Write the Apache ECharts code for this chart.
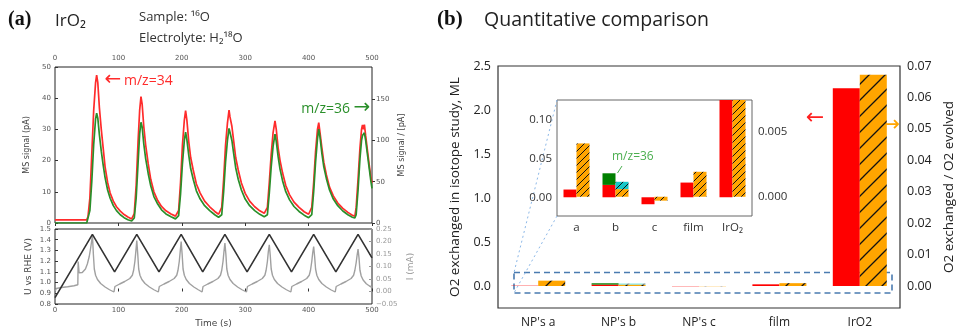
<!DOCTYPE html>
<html><head><meta charset="utf-8">
<script src="https://cdn.jsdelivr.net/npm/echarts@6/dist/echarts.min.js"></script>
<style>html,body{margin:0;padding:0;background:#fff}#c{width:959px;height:329px}</style>
</head><body><div id="c"></div>
<script>
// ---------- Panel (a): MS signals ----------
const msTime = [0,25,50,52,55,58,61,64,65.7,67.5,70,73,76,79,83,87,92,97,103,109,115,121,123,
125,128,131,133.5,135.6,137.5,140,143,147,151,156,162,168,175,183,190,193,
195,198,201,204,206,208,211,214,218,223,229,236,244,252,258,261,
263,266,269,272,274.5,276,277.5,279,282,285,289,294,300,307,315,323,330,333,
335,338,341,344,347,349,352,355,359,364,370,377,385,393,400,403,
405,408,411,414,416,418,421,424,428,433,439,446,454,462,469,473,
475,478,481,483.5,485,486.5,488,490,493,496,498,500];
const ms34 = [1,1,1,2,8,22,36,45,47.4,45,37,30,24,18,13,9.6,7,5.2,3.8,2.7,1.9,1.3,1.3,
3,12,26,36,40.5,38,31,25,19,14,10,7.2,5.3,3.9,2.9,2.2,2.0,
4,13,25,33,36,33,26,21,17,12.5,9.6,7,5.2,3.7,2.8,2.6,
5,14,25,32,36.2,34,34.5,31,26,21,17,12.8,9.5,7,5.2,3.9,3.1,2.9,
5,13,22,29,32.7,30,24,20,16,12,9,6.7,5,3.6,2.8,2.6,
5,13,23,30,32.2,29,24,19.5,15.5,11.5,8.7,6.4,4.7,3.4,2.5,2.2,
5,14,24,30,31.4,30,31.5,28,23,18,15,12.8];
const ms36 = [0,0,0,1,15,50,95,126,133,127,107,87,70,55,40,30,21,15,10,6.5,4,2.5,2.5,
6,30,72,108,122,116,96,78,60,45,32,23,16,11,7.5,5,4.5,
9,35,72,100,110,101,82,66,53,39,29,21,15,10,7,6,
10,38,74,100,114.6,110,112,100,83,67,53,40,29,21,15,10.5,7.5,6.5,
10,36,68,93,107.7,99,80,65,51,38,28,20,14,9.5,6.5,6,
10,38,74,102,113.8,104,84,68,54,40,29,21,14.5,10,7,6,
10,40,78,100,106,104,109.3,100,82,64,52,42];

// ---------- Panel (a): electrochemistry ----------
const potTime = [0,59,94,129,164,199,233,268,303,338,373,408,443,478,500];
const potential = [0.86,1.45,1.10,1.45,1.10,1.45,1.10,1.45,1.10,1.45,1.10,1.45,1.10,1.45,1.23];
const curTime = [0,2,10,20,30,36,36.5,38,43,48,51,54,56,58,59,60.5,62,64,67,72,79,86,93,94,
94.5,102,110,118,122,124,126,127.5,129,130.5,132,134,137,142,149,156,163,164,
164.5,172,180,188,192,194,196,197.5,199,200.5,202,204,207,212,219,226,232,233,
233.5,241,249,257,261,263,265,266.5,268,269.5,271,273,276,281,288,295,302,303,
303.5,311,319,327,331,333,335,336.5,338,339.5,341,343,346,351,358,365,372,373,
373.5,381,389,397,401,403,405,406.5,408,409.5,411,413,416,421,428,435,442,443,
443.5,451,459,467,471,473,475,476.5,478,479.5,481,483,486,491,496,500];
const current = [0,0.012,0.016,0.019,0.023,0.027,0.12,0.075,0.076,0.09,0.11,0.14,0.17,0.205,0.226,0.15,0.09,0.065,0.048,0.032,0.018,0.007,-0.002,-0.004,
0.02,0.03,0.04,0.052,0.065,0.085,0.12,0.16,0.204,0.15,0.09,0.065,0.048,0.032,0.018,0.007,-0.002,-0.004,
0.02,0.03,0.04,0.052,0.065,0.085,0.12,0.16,0.2,0.15,0.09,0.065,0.048,0.032,0.018,0.007,-0.002,-0.004,
0.02,0.03,0.04,0.052,0.065,0.085,0.12,0.16,0.194,0.15,0.09,0.065,0.048,0.032,0.018,0.007,-0.002,-0.004,
0.02,0.03,0.04,0.052,0.065,0.085,0.12,0.16,0.187,0.145,0.09,0.065,0.048,0.032,0.018,0.007,-0.002,-0.004,
0.02,0.03,0.04,0.052,0.065,0.085,0.12,0.155,0.18,0.14,0.09,0.065,0.048,0.032,0.018,0.007,-0.002,-0.004,
0.02,0.03,0.04,0.052,0.065,0.085,0.115,0.145,0.17,0.135,0.085,0.062,0.046,0.031,0.022,0.017];

// ---------- Panel (b): quantitative comparison ----------
const categories = ["NP's a", "NP's b", "NP's c", "film", "IrO2"];
const insetCategories = ["a", "b", "c", "film", "IrO\u2082"];
const exchanged = [0.010, 0.016, -0.009, 0.019, 2.247];      // ML, m/z=34 part
const exchanged36 = [0, 0.015, 0, 0, 0];                      // ML, m/z=36 part
const ratioMain = [0.0017, 0.0004, -0.0002, 0.0009, 0.0672];  // O2 exchanged / O2 evolved
const ratioMain36 = [0, 0.0004, 0, 0, 0];
const ratioInset = [0.0041, 0.00059, -0.0003, 0.00192, 0.0672];
const ratioInset36 = [0, 0.00056, 0, 0, 0];

const tickMS = [0, 50, 100, 150];
const tickML = [0, 0.5, 1.0, 1.5, 2.0, 2.5];
const tickRatio = [0, 0.01, 0.02, 0.03, 0.04, 0.05, 0.06, 0.07];
const tickInsetL = [0, 0.05, 0.10];
const tickInsetR = [0, 0.005];

function hatch(bg, size, lw) {
  const c = document.createElement('canvas');
  c.width = size; c.height = size;
  const g = c.getContext('2d');
  g.fillStyle = bg; g.fillRect(0, 0, size, size);
  g.strokeStyle = '#111'; g.lineWidth = lw;
  g.beginPath();
  g.moveTo(-1, size + 1); g.lineTo(size + 1, -1);
  g.moveTo(-2, 2); g.lineTo(2, -2);
  g.moveTo(size - 2, size + 2); g.lineTo(size + 2, size - 2);
  g.stroke();
  return { image: c, repeat: 'repeat' };
}
const orangeMain = hatch('#ffa500', 16, 1.3);
const cyanMain = hatch('#17d0d0', 16, 1.3);
const orangeInset = hatch('#ffa500', 7, 1.0);
const cyanInset = hatch('#17c8c8', 7, 1.0);

const fadedMain = [true, false, true, false, false];

const chart = echarts.init(document.getElementById('c'), null, { renderer: 'canvas' });
const FA = 'DejaVu Sans';
const FB = 'Open Sans';
const small = { fontSize: 7, color: '#555', fontFamily: FA };
const nameA = { fontSize: 8, color: '#444', fontFamily: FA };
const labB = { fontSize: 12.5, color: '#222', fontFamily: FB };
const labI = { fontSize: 11.5, color: '#333', fontFamily: FB };
const fmtNeg = (v, d) => (v < 0 ? '\u2212' : '') + Math.abs(v).toFixed(d);

const option = {
  animation: false,
  backgroundColor: '#fff',
  grid: [
    { left: 55, top: 67, width: 317, height: 156, show: true, borderColor: '#222', borderWidth: 1 },
    { left: 55, top: 229, width: 317, height: 76, show: true, borderColor: '#222', borderWidth: 1 },
    { left: 498, top: 66, width: 402, height: 242, show: true, borderColor: '#333', borderWidth: 1.2 },
    { left: 557, top: 100, width: 195, height: 116, show: true, borderColor: '#666', borderWidth: 1, backgroundColor: '#fff' }
  ],
  xAxis: [
    { gridIndex: 0, type: 'value', min: 0, max: 500, interval: 100, position: 'top',
      axisLine: { show: false }, axisTick: { inside: true, length: 3, lineStyle: { color: '#333' } },
      axisLabel: Object.assign({ margin: 5 }, small), splitLine: { show: false } },
    { gridIndex: 1, type: 'value', min: 0, max: 500, interval: 100, position: 'bottom',
      name: 'Time (s)', nameLocation: 'middle', nameGap: 15, nameTextStyle: { fontSize: 9, color: '#444', fontFamily: FA },
      axisLine: { show: false }, axisTick: { inside: true, length: 3, lineStyle: { color: '#333' } },
      axisLabel: Object.assign({ margin: 3 }, small), splitLine: { show: false } },
    { gridIndex: 2, type: 'category', data: categories,
      axisLine: { show: false }, axisTick: { alignWithLabel: true, length: 4, lineStyle: { color: '#333' } },
      axisLabel: Object.assign({ margin: 9 }, labB, { fontSize: 12 }) },
    { gridIndex: 3, type: 'category', data: insetCategories,
      axisLine: { show: false }, axisTick: { alignWithLabel: true, length: 2, lineStyle: { color: '#bbb' } },
      axisLabel: Object.assign({ margin: 6 }, labI) }
  ],
  yAxis: [
    { gridIndex: 0, type: 'value', min: 0, max: 50, interval: 10,
      name: 'MS signal (pA)', nameLocation: 'middle', nameRotate: 90, nameGap: 24, nameTextStyle: nameA,
      axisLine: { show: false }, axisTick: { inside: true, length: 3, lineStyle: { color: '#333' } },
      axisLabel: Object.assign({ margin: 4 }, small), splitLine: { show: false } },
    { gridIndex: 0, type: 'value', min: 0, max: 189, position: 'right',
      name: 'MS signal / [pA]', nameLocation: 'middle', nameRotate: 90, nameGap: 26, nameTextStyle: nameA,
      axisLine: { show: false }, axisTick: { customValues: tickMS, inside: false, length: 3, lineStyle: { color: '#333' } },
      axisLabel: Object.assign({ customValues: tickMS, margin: 4 }, small), splitLine: { show: false } },
    { gridIndex: 1, type: 'value', min: 0.8, max: 1.5, interval: 0.1,
      name: 'U vs RHE (V)', nameLocation: 'middle', nameRotate: 90, nameGap: 22, nameTextStyle: Object.assign({}, nameA, { fontSize: 9 }),
      axisLine: { show: false }, axisTick: { inside: true, length: 3, lineStyle: { color: '#333' } },
      axisLabel: Object.assign({ margin: 4, formatter: v => v.toFixed(1) }, small), splitLine: { show: false } },
    { gridIndex: 1, type: 'value', min: -0.05, max: 0.25, interval: 0.05, position: 'right',
      name: 'I (mA)', nameLocation: 'middle', nameRotate: 90, nameGap: 34, nameTextStyle: Object.assign({}, nameA, { fontSize: 9, color: '#999' }),
      axisLine: { show: false }, axisTick: { inside: true, length: 3, lineStyle: { color: '#999' } },
      axisLabel: Object.assign({ margin: 4, formatter: v => fmtNeg(v, 2) }, small, { color: '#999' }), splitLine: { show: false } },
    { gridIndex: 2, type: 'value', min: -0.25, max: 2.5,
      name: 'O2 exchanged in isotope study, ML', nameLocation: 'middle', nameRotate: 90, nameGap: 36,
      nameTextStyle: { fontSize: 13.5, color: '#222', fontFamily: FB },
      axisLine: { show: false }, axisTick: { customValues: tickML, length: 4, lineStyle: { color: '#333' } },
      axisLabel: Object.assign({ customValues: tickML, margin: 7, formatter: v => v.toFixed(1) }, labB), splitLine: { show: false } },
    { gridIndex: 2, type: 'value', min: -0.007, max: 0.07, position: 'right',
      name: 'O2 exchanged / O2 evolved', nameLocation: 'middle', nameRotate: 90, nameGap: 42,
      nameTextStyle: { fontSize: 13.5, color: '#222', fontFamily: FB },
      axisLine: { show: false }, axisTick: { customValues: tickRatio, length: 4, lineStyle: { color: '#333' } },
      axisLabel: Object.assign({ customValues: tickRatio, margin: 7, formatter: v => v.toFixed(2) }, labB), splitLine: { show: false } },
    { gridIndex: 3, type: 'value', min: -0.0242, max: 0.1257,
      axisLine: { show: false }, axisTick: { customValues: tickInsetL, length: 3, lineStyle: { color: '#555' } },
      axisLabel: Object.assign({ customValues: tickInsetL, margin: 5, formatter: v => v.toFixed(2) }, labI), splitLine: { show: false } },
    { gridIndex: 3, type: 'value', min: -0.00148, max: 0.00744, position: 'right',
      axisLine: { show: false }, axisTick: { customValues: tickInsetR, length: 3, lineStyle: { color: '#555' } },
      axisLabel: Object.assign({ customValues: tickInsetR, margin: 6, formatter: v => v.toFixed(3) }, labI), splitLine: { show: false } }
  ],
  series: [
    { type: 'line', xAxisIndex: 0, yAxisIndex: 0, symbol: 'none', z: 3,
      data: msTime.map((t, i) => [t, ms34[i]]), lineStyle: { color: '#ff2b2b', width: 1.7 } },
    { type: 'line', xAxisIndex: 0, yAxisIndex: 1, symbol: 'none', z: 4,
      data: msTime.map((t, i) => [t, ms36[i]]), lineStyle: { color: '#2a8f2a', width: 1.7 } },
    { type: 'line', xAxisIndex: 1, yAxisIndex: 3, symbol: 'none',
      data: curTime.map((t, i) => [t, current[i]]), lineStyle: { color: '#a0a0a0', width: 1.4 } },
    { type: 'line', xAxisIndex: 1, yAxisIndex: 2, symbol: 'none',
      data: potTime.map((t, i) => [t, potential[i]]), lineStyle: { color: '#333', width: 1.6 } },

    { type: 'bar', xAxisIndex: 2, yAxisIndex: 4, stack: 'mainL', barWidth: 27, barGap: '0%',
      data: exchanged.map((v, i) => ({ value: v, itemStyle: { opacity: fadedMain[i] ? 0.35 : 1 } })),
      itemStyle: { color: '#ff0000' } },
    { type: 'bar', xAxisIndex: 2, yAxisIndex: 4, stack: 'mainL', barWidth: 27, barGap: '0%',
      data: exchanged36, itemStyle: { color: '#008000' } },
    { type: 'bar', xAxisIndex: 2, yAxisIndex: 5, stack: 'mainR', barWidth: 27, barGap: '0%',
      data: ratioMain.map((v, i) => ({ value: v, itemStyle: { opacity: i === 2 ? 0.35 : 1 } })),
      itemStyle: { color: orangeMain } },
    { type: 'bar', xAxisIndex: 2, yAxisIndex: 5, stack: 'mainR', barWidth: 27, barGap: '0%',
      data: ratioMain36, itemStyle: { color: cyanMain, opacity: 0.5 } },

    { type: 'bar', xAxisIndex: 3, yAxisIndex: 6, stack: 'insL', barWidth: 13, barGap: '0%',
      data: exchanged, itemStyle: { color: '#ff0000' } },
    { type: 'bar', xAxisIndex: 3, yAxisIndex: 6, stack: 'insL', barWidth: 13, barGap: '0%',
      data: exchanged36, itemStyle: { color: '#008000' } },
    { type: 'bar', xAxisIndex: 3, yAxisIndex: 7, stack: 'insR', barWidth: 13, barGap: '0%',
      data: ratioInset, itemStyle: { color: orangeInset } },
    { type: 'bar', xAxisIndex: 3, yAxisIndex: 7, stack: 'insR', barWidth: 13, barGap: '0%',
      data: ratioInset36, itemStyle: { color: cyanInset } }
  ],
  graphic: [
    { type: 'text', style: { text: '(a)', x: 8, y: 20, textVerticalAlign: 'middle', font: 'bold 20px "Liberation Serif"', fill: '#111' } },
    { type: 'text', style: { text: 'IrO\u2082', x: 55, y: 21, textVerticalAlign: 'middle', font: '17px "Open Sans"', fill: '#222' } },
    { type: 'text', style: { text: 'Sample: \u00b9\u2076O', x: 139, y: 17, textVerticalAlign: 'middle', font: '13px "Open Sans"', fill: '#333' } },
    { type: 'text', style: { text: 'Electrolyte: H\u2082\u00b9\u2078O', x: 139, y: 38, textVerticalAlign: 'middle', font: '13px "Open Sans"', fill: '#333' } },
    { type: 'text', style: { text: '\u2190', x: 113, y: 80, textAlign: 'center', textVerticalAlign: 'middle', font: '20px "DejaVu Sans"', fill: '#ff2b2b' } },
    { type: 'text', style: { text: 'm/z=34', x: 124, y: 81, textVerticalAlign: 'middle', font: '14px "Open Sans"', fill: '#ff2b2b' } },
    { type: 'text', style: { text: 'm/z=36', x: 350, y: 109, textAlign: 'right', textVerticalAlign: 'middle', font: '14px "Open Sans"', fill: '#2a8f2a' } },
    { type: 'text', style: { text: '\u2192', x: 362, y: 108, textAlign: 'center', textVerticalAlign: 'middle', font: '20px "DejaVu Sans"', fill: '#2a8f2a' } },
    { type: 'text', style: { text: '(b)', x: 437, y: 20, textVerticalAlign: 'middle', font: 'bold 21px "Liberation Serif"', fill: '#111' } },
    { type: 'text', style: { text: 'Quantitative comparison', x: 484, y: 20, textVerticalAlign: 'middle', font: '19.5px "Open Sans"', fill: '#222' } },
    { type: 'text', style: { text: '\u2190', x: 815, y: 118, textAlign: 'center', textVerticalAlign: 'middle', font: '22px "DejaVu Sans"', fill: '#ff2020' } },
    { type: 'text', style: { text: '\u2192', x: 891, y: 125, textAlign: 'center', textVerticalAlign: 'middle', font: '22px "DejaVu Sans"', fill: '#ffa500' } },
    { type: 'text', z: 10, style: { text: 'm/z=36', x: 612, y: 157, textVerticalAlign: 'middle', font: '12px "Open Sans"', fill: '#4caf50' } },
    { type: 'line', z: 10, shape: { x1: 622, y1: 166, x2: 617.5, y2: 173 }, style: { stroke: '#4caf50', lineWidth: 1 } },
    { type: 'rect', shape: { x: 514, y: 272.5, width: 378, height: 20.5 }, style: { fill: 'none', stroke: '#4a7bb0', lineWidth: 1.6, lineDash: [6, 4] } },
    { type: 'line', shape: { x1: 557, y1: 100, x2: 514, y2: 272.5 }, style: { stroke: '#8cb8e8', lineWidth: 1, lineDash: [2, 3] } },
    { type: 'line', shape: { x1: 557, y1: 216, x2: 514, y2: 293 }, style: { stroke: '#8cb8e8', lineWidth: 1, lineDash: [2, 3] } }
  ]
};
chart.setOption(option);
</script>
</body></html>
